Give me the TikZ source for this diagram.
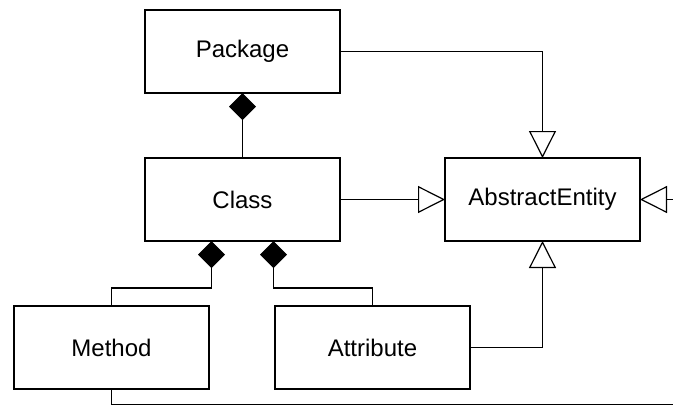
\documentclass[tikz,border=0pt]{standalone}
\usepackage{fontspec}
\setmainfont{Liberation Sans}
\usepackage{tikz}
\usetikzlibrary{arrows.meta, positioning, calc}

\begin{document}
\begin{tikzpicture}[
    node distance=65pt,
    entity/.style={rectangle, draw, line width=2pt, outer sep=0pt, minimum width=195pt, minimum height=83pt, align=center, font=\fontsize{24}{28}\selectfont},
    gen/.style={-{Triangle[open, length=27pt, width=27pt, fill=white]}, line width=1.2pt},
    comp/.style={{Diamond[length=27pt, width=27pt]}-, line width=1.2pt}
]
    \useasboundingbox (0,0) rectangle (673pt,-405pt);

    \node[entity] (pkg) at (242.5pt,-51.5pt) {Package};
    \node[entity, below=of pkg] (cls) {Class};
    \node[entity, right=105pt of cls] (abs) {AbstractEntity};
    \node[entity, below=of cls, xshift=-131pt] (meth) {Method};
    \node[entity, right=66pt of meth] (attr) {Attribute};

    % generalisations
    \draw[gen] (pkg.east) -| (abs.north);
    \draw[gen] (cls) -- (abs);
    \draw[gen] (attr.east) -| (abs.south);
    \coordinate (farright) at ($(abs.east)+(60pt,0)$);
    \draw[gen] (farright) -- (abs.east);

    % compositions
    \coordinate (cm) at ($(cls.south)+(-31pt,0)$);
    \coordinate (ca) at ($(cls.south)+(31pt,0)$);
    \draw[comp] (pkg.south) -- (cls.north);
    \draw[comp] (cm) -- ++(0,-47pt) -| (meth.north);
    \draw[comp] (ca) -- ++(0,-47pt) -| (attr.north);

    \coordinate (trail) at ($(meth.south)+(600pt,-15.5pt)$);
    \draw[line width=1.2pt] (meth.south) |- (trail);
\end{tikzpicture}
\end{document}
